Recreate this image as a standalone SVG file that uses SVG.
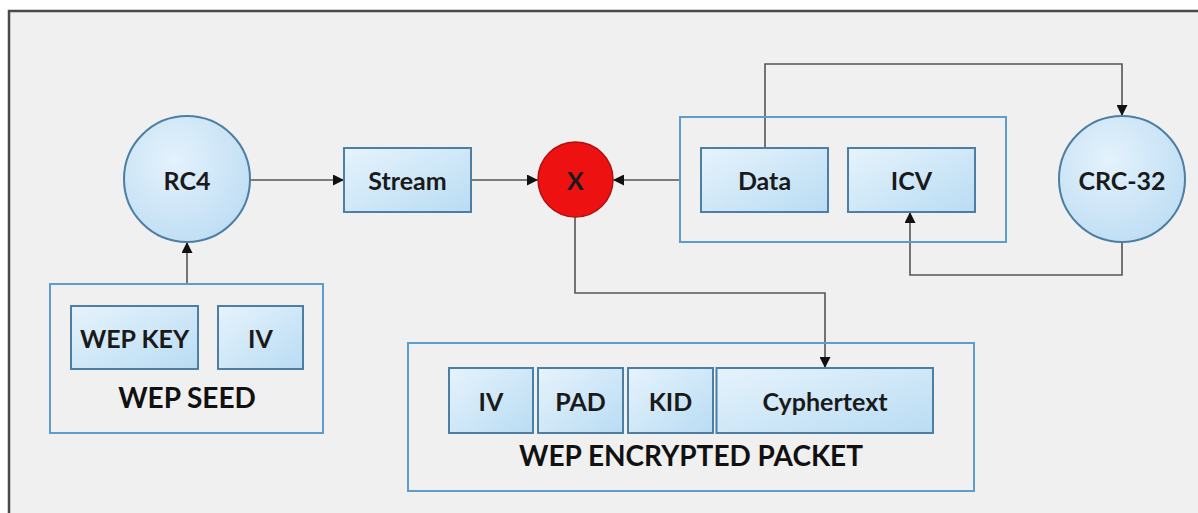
<svg xmlns="http://www.w3.org/2000/svg" width="1198" height="513" viewBox="0 0 1198 513">
  <defs>
    <linearGradient id="boxGrad" x1="0" y1="0" x2="1" y2="1">
      <stop offset="0" stop-color="#e6f3fc"/>
      <stop offset="1" stop-color="#b9dcf3"/>
    </linearGradient>
    <radialGradient id="circGrad" cx="0.4" cy="0.35" r="0.75">
      <stop offset="0" stop-color="#e4f2fc"/>
      <stop offset="1" stop-color="#bcdcf3"/>
    </radialGradient>
    <marker id="arrow" viewBox="0 0 10 10" refX="10" refY="5" markerWidth="12" markerHeight="11" markerUnits="userSpaceOnUse" orient="auto">
      <path d="M0,0 L10,5 L0,10 z" fill="#111"/>
    </marker>
  </defs>
  <style>
    .box { fill: url(#boxGrad); stroke: #4d7ea3; stroke-width: 2; }
    .group { fill: none; stroke: #5d9ccc; stroke-width: 2; }
    .circ { fill: url(#circGrad); stroke: #4d7ea3; stroke-width: 2; }
    .xcirc { fill: #ee1111; stroke: #b01010; stroke-width: 1.5; }
    .lbl { font-family: Lato, "Open Sans", "Liberation Sans", sans-serif; font-weight: bold; font-size: 25px; fill: #1a1a1a; text-anchor: middle; dominant-baseline: central; }
    .big { font-size: 28px; fill: #111; }
    .conn { fill: none; stroke: #555; stroke-width: 1.6; }
  </style>

  <rect x="0" y="0" width="1198" height="513" fill="#ffffff"/>
  <rect x="9" y="11" width="1189" height="502" fill="#f0f0f0"/>
  <path d="M9,513 L9,11 L1198,11" fill="none" stroke="#4a4a4a" stroke-width="2.5"/>

  <g id="connectors">
    <line class="conn" x1="250" y1="180" x2="344" y2="180" marker-end="url(#arrow)"/>
    <line class="conn" x1="471" y1="180" x2="538" y2="180" marker-end="url(#arrow)"/>
    <line class="conn" x1="680" y1="180" x2="613" y2="180" marker-end="url(#arrow)"/>
    <line class="conn" x1="187" y1="284" x2="187" y2="242" marker-end="url(#arrow)"/>
    <polyline class="conn" points="765,148 765,64 1122,64 1122,116" marker-end="url(#arrow)"/>
    <polyline class="conn" points="1122,242 1122,275 910,275 910,212" marker-end="url(#arrow)"/>
    <polyline class="conn" points="575,217 575,293 825,293 825,368" marker-end="url(#arrow)"/>
  </g>

  <g id="rc4">
    <circle class="circ" cx="187" cy="179" r="63"/>
    <text class="lbl" x="187" y="180">RC4</text>
  </g>

  <g id="stream">
    <rect class="box" x="344" y="148" width="127" height="64"/>
    <text class="lbl" x="407.5" y="180">Stream</text>
  </g>

  <g id="xor">
    <circle class="xcirc" cx="575.5" cy="179.5" r="37.5"/>
    <text class="lbl" x="575.5" y="180">X</text>
  </g>

  <g id="data-group">
    <rect class="group" x="680" y="117" width="326" height="125"/>
  </g>

  <g id="data">
    <rect class="box" x="701" y="148" width="127" height="64"/>
    <text class="lbl" x="764.5" y="180">Data</text>
  </g>

  <g id="icv">
    <rect class="box" x="848" y="148" width="127" height="64"/>
    <text class="lbl" x="911.5" y="180">ICV</text>
  </g>

  <g id="crc32">
    <circle class="circ" cx="1122" cy="179" r="63"/>
    <text class="lbl" x="1122" y="180">CRC-32</text>
  </g>

  <g id="wep-seed">
    <rect class="group" x="50" y="284" width="273" height="149"/>
    <text class="lbl big" x="187" y="397">WEP SEED</text>
  </g>

  <g id="wep-key">
    <rect class="box" x="71" y="306" width="127" height="63"/>
    <text class="lbl" x="134.5" y="337.5">WEP KEY</text>
  </g>

  <g id="seed-iv">
    <rect class="box" x="218" y="306" width="85" height="63"/>
    <text class="lbl" x="260.5" y="337.5">IV</text>
  </g>

  <g id="wep-packet">
    <rect class="group" x="408" y="343" width="566" height="148"/>
    <text class="lbl big" x="691" y="455">WEP ENCRYPTED PACKET</text>
  </g>

  <g id="pkt-iv">
    <rect class="box" x="449" y="368" width="84" height="65"/>
    <text class="lbl" x="491" y="400.5">IV</text>
  </g>

  <g id="pkt-pad">
    <rect class="box" x="538" y="368" width="85" height="65"/>
    <text class="lbl" x="580.5" y="400.5">PAD</text>
  </g>

  <g id="pkt-kid">
    <rect class="box" x="628" y="368" width="85" height="65"/>
    <text class="lbl" x="670.5" y="400.5">KID</text>
  </g>

  <g id="pkt-cyphertext">
    <rect class="box" x="716.5" y="368" width="216.5" height="65"/>
    <text class="lbl" x="825" y="400.5">Cyphertext</text>
  </g>
</svg>
